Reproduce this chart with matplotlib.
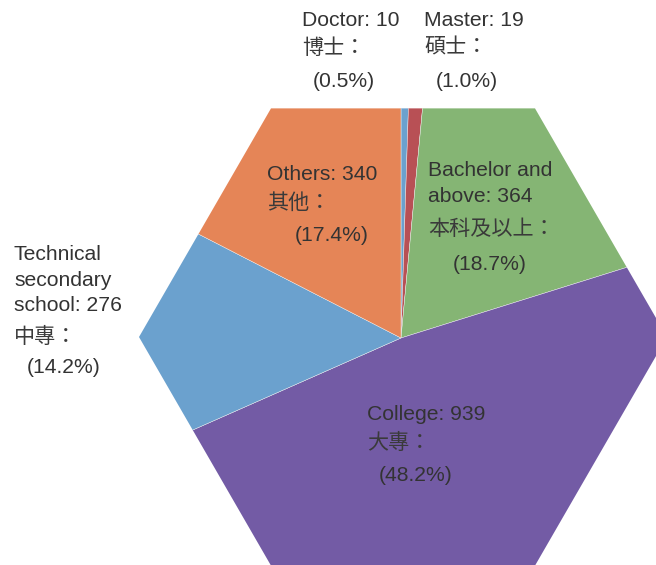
import matplotlib
matplotlib.use('Agg')
import matplotlib.pyplot as plt
from matplotlib.patches import Polygon
import numpy as np

# ---- data ----
categories_en = [['Doctor'], ['Master'], ['Bachelor and', 'above'], ['College'],
                 ['Technical', 'secondary', 'school'], ['Others']]
categories_zh = ['博士', '碩士', '本科及以上', '大專', '中專', '其他']
values = [10, 19, 364, 939, 276, 340]
percents = [0.5, 1.0, 18.7, 48.2, 14.2, 17.4]
colors = ['#6BA1CE', '#B85055', '#85B574', '#735BA5', '#6BA1CE', '#E58557']

# ---- layout (pixel coordinates, y downward) ----
W, H = 656, 565
label_x = [302, 424, 428, 367, 14, 267]
pct_x = [313, 436, 453, 379, 27, 295]
en_baseline = [26, 26, 176, 420, 260, 180]
zh_baseline = [53.5, 53.5, 235, 449, 343, 208.5]
pct_baseline = [87, 87, 270, 481, 373, 241]
line_gap = 25.5

fig = plt.figure(figsize=(W / 100, H / 100), dpi=100)
ax = fig.add_axes([0, 0, 1, 1])

pie_center = (401, H - 338)
wedges, _ = ax.pie(values, colors=colors, startangle=90, counterclock=False,
                   radius=420, center=pie_center,
                   wedgeprops=dict(linewidth=0.3, edgecolor='#f0f0f0'))

hc = (403, H - 337)
R = 264
ang = np.deg2rad(np.arange(0, 360, 60))
hexagon = Polygon(np.column_stack([hc[0] + R * np.cos(ang), hc[1] + R * np.sin(ang)]),
                  closed=True, facecolor='none', edgecolor='none',
                  transform=ax.transData)
ax.add_patch(hexagon)
for w in wedges:
    w.set_clip_on(True)
    w.set_clip_path(hexagon)

ax.set_xlim(0, W)
ax.set_ylim(0, H)
ax.set_aspect('equal')
ax.axis('off')

fam = ['Liberation Sans', 'Noto Sans CJK TC', 'DejaVu Sans']
tkw = dict(fontsize=15.2, color='#333333', family=fam, ha='left', va='baseline')
zkw = dict(tkw, color='#3a3a3a', fontweight='light')
for i, v in enumerate(values):
    lines = categories_en[i]
    for j, ln in enumerate(lines):
        txt = ln + (f': {v}' if j == len(lines) - 1 else '')
        ax.text(label_x[i], H - (en_baseline[i] + j * line_gap), txt, **tkw)
    ax.text(label_x[i], H - zh_baseline[i], categories_zh[i] + '：', **zkw)
    ax.text(pct_x[i], H - pct_baseline[i], f'({percents[i]:.1f}%)', **tkw)

fig.savefig('out.png', dpi=100)
